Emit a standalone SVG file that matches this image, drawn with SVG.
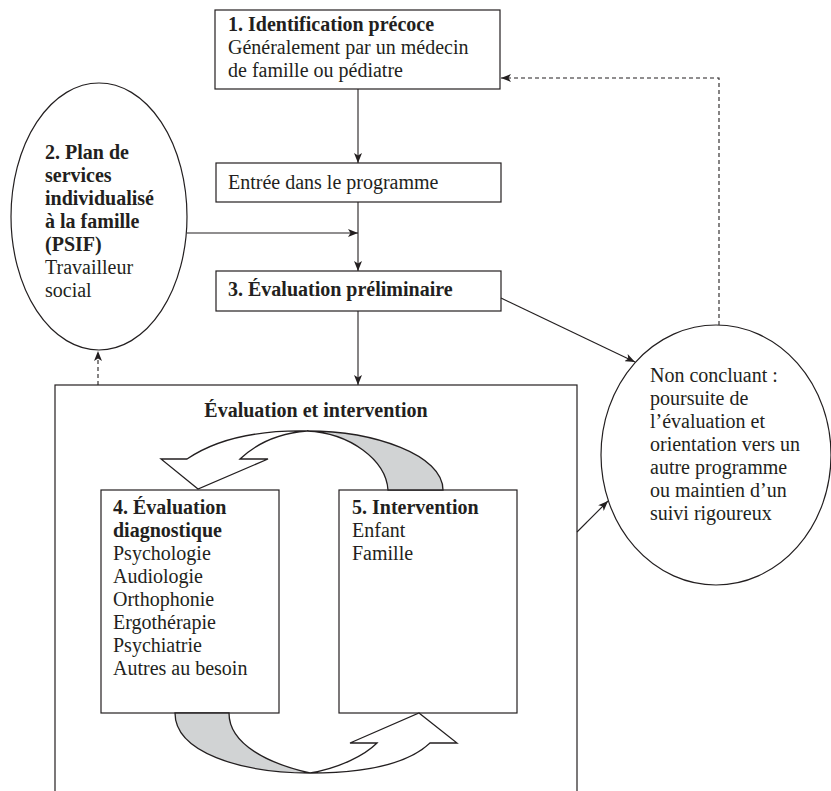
<svg xmlns="http://www.w3.org/2000/svg" width="831" height="791" viewBox="0 0 831 791">
<style>
.box{fill:#fff;stroke:#231f20;stroke-width:1.2}
.t{font-family:"Liberation Serif","Times New Roman",serif;font-size:20px;fill:#231f20}
.b{font-weight:bold}
.ln{fill:none;stroke:#231f20;stroke-width:1.1}
.dash{fill:none;stroke:#231f20;stroke-width:1.1;stroke-dasharray:4 3}
.ribbon{fill:#fff;stroke:#231f20;stroke-width:1.3;stroke-linejoin:miter}
.gray{fill:#d1d3d4;stroke:#231f20;stroke-width:1.3}
</style>
<defs>
<marker id="ah" viewBox="0 0 10 8" refX="10" refY="4" markerWidth="10" markerHeight="8" markerUnits="userSpaceOnUse" orient="auto">
<path d="M0,0 L10,4 L0,8 L2.5,4 Z" fill="#231f20"/>
</marker>
</defs>
<rect width="831" height="791" fill="#fff"/>

<g id="n-eval-interv">
<rect class="box" x="55" y="385" width="522" height="420"/>
<text class="t b" x="316" y="417" text-anchor="middle">Évaluation et intervention</text>
</g>

<g id="n1">
<rect class="box" x="215" y="10" width="285" height="79"/>
<text class="t" x="228" y="31"><tspan class="b">1. Identification précoce</tspan><tspan x="228" y="54">Généralement par un médecin</tspan><tspan x="228" y="77">de famille ou pédiatre</tspan></text>
</g>

<g id="n-entree">
<rect class="box" x="216" y="163" width="285" height="39"/>
<text class="t" x="228" y="189">Entrée dans le programme</text>
</g>

<g id="n3">
<rect class="box" x="216" y="271" width="285" height="40"/>
<text class="t b" x="228" y="296">3. Évaluation préliminaire</text>
</g>

<g id="n2">
<ellipse class="box" cx="99" cy="216.5" rx="88" ry="133.5"/>
<text class="t b" x="45" y="159">2. Plan de<tspan x="45" y="182">services</tspan><tspan x="45" y="205">individualisé</tspan><tspan x="45" y="228">à la famille</tspan><tspan x="45" y="251">(PSIF)</tspan></text>
<text class="t" x="45" y="274">Travailleur<tspan x="45" y="297">social</tspan></text>
</g>

<g id="n-nonconcluant">
<ellipse class="box" cx="716" cy="455" rx="115" ry="130"/>
<text class="t" x="650" y="382">Non concluant :<tspan x="650" y="405">poursuite de</tspan><tspan x="650" y="428">l’évaluation et</tspan><tspan x="650" y="451">orientation vers un</tspan><tspan x="650" y="474">autre programme</tspan><tspan x="650" y="497">ou maintien d’un</tspan><tspan x="650" y="520">suivi rigoureux</tspan></text>
</g>

<g id="n4">
<rect class="box" x="101" y="490" width="178" height="223"/>
<text class="t b" x="113" y="514">4. Évaluation<tspan x="113" y="537">diagnostique</tspan></text>
<text class="t" x="113" y="560">Psychologie<tspan x="113" y="583">Audiologie</tspan><tspan x="113" y="606">Orthophonie</tspan><tspan x="113" y="629">Ergothérapie</tspan><tspan x="113" y="652">Psychiatrie</tspan><tspan x="113" y="675">Autres au besoin</tspan></text>
</g>

<g id="n5">
<rect class="box" x="339" y="490" width="178" height="223"/>
<text class="t b" x="352" y="514">5. Intervention</text>
<text class="t" x="352" y="537">Enfant<tspan x="352" y="560">Famille</tspan></text>
</g>

<g id="cycle-arrows">
<path class="gray" d="M307,431 C375,431 443,455 443,490 L388,490 C386,460 350,433 307,431 Z"/>
<path class="ribbon" d="M187,459 C215,440 255,430 307,431 C282,433 258,442 240,459 L268,459 L198,489 L161,459 Z"/>
<path class="gray" d="M175,713 C175,752 240,773 310,773 C270,764 229,745 229,713 Z"/>
<path class="ribbon" d="M310,773 C370,773 410,762 430,743 L457,743 L419,713 L350,743 L377,743 C365,755 340,768 310,773 Z"/>
</g>

<g id="connectors">
<line class="ln" x1="358" y1="89" x2="358" y2="163" marker-end="url(#ah)"/>
<line class="ln" x1="358" y1="202" x2="358" y2="271" marker-end="url(#ah)"/>
<line class="ln" x1="187" y1="233" x2="358" y2="233" marker-end="url(#ah)"/>
<line class="ln" x1="358" y1="311" x2="358" y2="385" marker-end="url(#ah)"/>
<line class="ln" x1="501" y1="298" x2="635" y2="362" marker-end="url(#ah)"/>
<line class="ln" x1="577" y1="532" x2="608" y2="501" marker-end="url(#ah)"/>
<polyline class="dash" points="719,325 719,78 501,78" marker-end="url(#ah)"/>
<line class="dash" x1="98" y1="385" x2="98" y2="351" marker-end="url(#ah)"/>
</g>
</svg>
